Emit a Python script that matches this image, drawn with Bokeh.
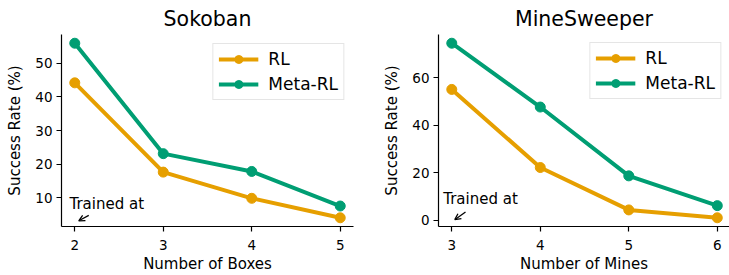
from bokeh.plotting import figure
from bokeh.layouts import row
from bokeh.models import Range1d, FixedTicker, Label, Arrow, OpenHead, Legend, LegendItem
from bokeh.embed import file_html
from bokeh.resources import INLINE

FONT = "DejaVu Sans"
ORANGE = "#E69F00"
GREEN = "#009E73"

# Sokoban
sok_boxes = [2, 3, 4, 5]
sok_rl = [44.2, 17.6, 9.8, 4.0]
sok_meta = [56.0, 23.1, 17.8, 7.5]
sok_yticks = [10, 20, 30, 40, 50]

# MineSweeper
ms_mines = [3, 4, 5, 6]
ms_rl = [55.0, 22.2, 4.4, 1.1]
ms_meta = [74.4, 47.6, 18.7, 6.2]
ms_yticks = [0, 20, 40, 60]

series_labels = ["RL", "Meta-RL"]


def pad_range(vals, frac=0.05):
    lo, hi = min(vals), max(vals)
    d = (hi - lo) * frac
    return lo - d, hi + d


def make(title, x, rl, meta, xlabel, yticks, width, bl, br, x_end_trim,
         text_dx, text_y, arrow_dx0, arrow_y0, arrow_dx1, arrow_y1, legend_margin):
    xs, xe = pad_range(x)
    ys, ye = pad_range(rl + meta)
    p = figure(width=width, height=275,
               x_range=Range1d(xs, xe - x_end_trim), y_range=Range1d(ys, ye),
               output_backend="svg", toolbar_location=None,
               min_border_left=bl, min_border_right=br,
               min_border_top=34, min_border_bottom=47)
    p.title.text = title
    p.title.align = "center"
    p.title.text_font = FONT
    p.title.text_font_size = "20.5px"
    p.title.text_font_style = "normal"
    p.title.text_color = "black"
    p.title.standoff = 8
    p.title.offset = 0

    p.grid.visible = False
    p.outline_line_color = None
    p.background_fill_color = "white"
    p.border_fill_color = "white"

    p.xaxis.ticker = FixedTicker(ticks=x)
    p.yaxis.ticker = FixedTicker(ticks=yticks)
    for ax in (p.xaxis, p.yaxis):
        ax.major_tick_out = 5
        ax.major_tick_in = 0
        ax.minor_tick_out = 0
        ax.minor_tick_in = 0
        ax.axis_line_color = "black"
        ax.axis_line_width = 1.2
        ax.major_tick_line_color = "black"
        ax.major_tick_line_width = 1.2
        ax.major_label_text_font = FONT
        ax.major_label_text_font_size = "13.5px"
        ax.major_label_text_color = "black"
        ax.axis_label_text_font = FONT
        ax.axis_label_text_font_size = "15px"
        ax.axis_label_text_font_style = "normal"
        ax.axis_label_text_color = "black"
    p.xaxis.axis_label = xlabel
    p.yaxis.axis_label = "Success Rate (%)"
    p.xaxis.major_label_standoff = 8
    p.xaxis.axis_label_standoff = 2
    p.yaxis.major_label_standoff = 4
    p.yaxis.axis_label_standoff = 8

    r1 = p.line(x, rl, line_color=ORANGE, line_width=4)
    s1 = p.scatter(x, rl, fill_color=ORANGE, line_color=ORANGE, size=10)
    r2 = p.line(x, meta, line_color=GREEN, line_width=4)
    s2 = p.scatter(x, meta, fill_color=GREEN, line_color=GREEN, size=10)

    legend = Legend(items=[LegendItem(label=series_labels[0], renderers=[r1, s1]),
                           LegendItem(label=series_labels[1], renderers=[r2, s2])],
                    location="top_right", margin=legend_margin,
                    padding=5, spacing=5, glyph_width=40, glyph_height=20,
                    label_height=20, label_standoff=10,
                    label_text_font=FONT, label_text_font_size="17px",
                    label_text_color="black",
                    border_line_color="#cccccc", border_line_width=1,
                    background_fill_color="white", background_fill_alpha=0.8)
    p.add_layout(legend)

    x0 = x[0]
    p.add_layout(Label(x=x0 + text_dx, y=text_y, text="Trained at",
                       text_font=FONT, text_font_size="15px", text_color="black",
                       text_align="left", text_baseline="alphabetic"))
    p.add_layout(Arrow(end=OpenHead(size=6, line_width=1.3, line_color="black"),
                       x_start=x0 + arrow_dx0, y_start=arrow_y0,
                       x_end=x0 + arrow_dx1, y_end=arrow_y1,
                       line_width=1.3, line_color="black"))
    return p


p1 = make("Sokoban", sok_boxes, sok_rl, sok_meta, "Number of Boxes", sok_yticks,
          width=365, bl=61, br=12, x_end_trim=0.0,
          text_dx=-0.06, text_y=8.2, arrow_dx0=0.158, arrow_y0=4.7,
          arrow_dx1=0.045, arrow_y1=3.1, legend_margin=9)
p2 = make("MineSweeper", ms_mines, ms_rl, ms_meta, "Number of Mines", ms_yticks,
          width=364, bl=73, br=0, x_end_trim=0.012,
          text_dx=-0.097, text_y=8.9, arrow_dx0=0.155, arrow_y0=3.5,
          arrow_dx1=0.034, arrow_y1=0.3, legend_margin=8)

layout = row(p1, p2)
open("out.html", "w").write(file_html(layout, INLINE))
